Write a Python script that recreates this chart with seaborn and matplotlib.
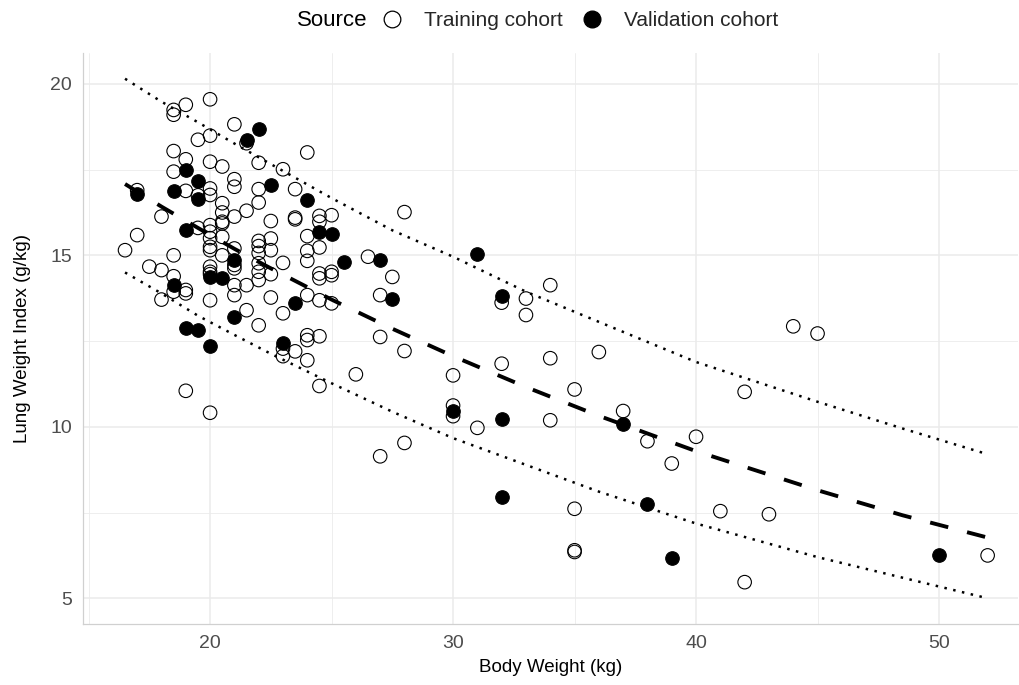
import numpy as np
import pandas as pd
import matplotlib
matplotlib.use("Agg")
import matplotlib.pyplot as plt
import seaborn as sns
from matplotlib.lines import Line2D

# =================================================================
# Data
# =================================================================

# Training cohort (hollow circles), one line per body weight
train_weight = [
    16.5,
    17, 17,
    17.5,
    18, 18, 18,
    18.5, 18.5, 18.5, 18.5, 18.5, 18.5, 18.5,
    19, 19, 19, 19, 19, 19,
    19.5, 19.5, 19.5,
    20, 20, 20, 20, 20, 20, 20, 20, 20, 20, 20, 20, 20, 20, 20,
    20.5, 20.5, 20.5, 20.5, 20.5, 20.5, 20.5,
    21, 21, 21, 21, 21, 21, 21, 21, 21,
    21.5, 21.5, 21.5, 21.5,
    22, 22, 22, 22, 22, 22, 22, 22, 22, 22,
    22.5, 22.5, 22.5, 22.5, 22.5,
    23, 23, 23, 23, 23,
    23.5, 23.5, 23.5, 23.5,
    24, 24, 24, 24, 24, 24, 24, 24,
    24.5, 24.5, 24.5, 24.5, 24.5, 24.5, 24.5, 24.5,
    25, 25, 25, 25,
    26,
    26.5,
    27, 27, 27,
    27.5,
    28, 28, 28,
    30, 30, 30,
    31,
    32, 32,
    33, 33,
    34, 34, 34,
    35, 35, 35, 35,
    36, 37, 38, 39, 40, 41,
    42, 42,
    43, 44, 45, 52,
]
train_index = [
    15.15,
    16.9, 15.59,
    14.67,
    16.13, 14.57, 13.71,
    19.24, 19.1, 18.04, 17.44, 15.0, 14.39, 13.94,
    19.39, 17.8, 16.88, 13.99, 13.89, 11.05,
    18.37, 16.75, 15.8,
    19.55, 18.49, 17.73, 16.95, 16.76, 15.88, 15.69, 15.5, 15.25, 15.15, 14.67, 14.52, 14.45, 13.69, 10.41,
    17.59, 16.52, 16.25, 15.98, 15.93, 15.54, 15.0,
    18.82, 17.22, 17.0, 16.13, 15.2, 14.72, 14.62, 14.13, 13.84,
    18.27, 16.3, 14.13, 13.4,
    17.7, 16.93, 16.54, 15.42, 15.27, 15.07, 14.77, 14.52, 14.28, 12.96,
    16.0, 15.49, 15.15, 14.45, 13.77,
    17.51, 14.78, 13.31, 12.28, 12.06,
    16.93, 16.1, 16.05, 12.2,
    18.0, 15.56, 15.13, 14.84, 13.84, 12.67, 12.53, 11.94,
    16.15, 15.98, 15.23, 14.47, 14.33, 13.69, 12.64, 11.19,
    16.17, 14.52, 14.42, 13.6,
    11.53,
    14.96,
    13.84, 12.62, 9.14,
    14.37,
    16.26, 12.21, 9.53,
    11.5, 10.62, 10.31,
    9.97,
    13.62, 11.84,
    13.74, 13.26,
    14.13, 12.0, 10.19,
    11.09, 7.61, 6.4, 6.35,
    12.18, 10.46, 9.58, 8.93, 9.71, 7.54,
    11.02, 5.47,
    7.45, 12.93, 12.72, 6.25,
]

# Validation cohort (filled circles)
val_weight = [
    17,
    18.5, 18.5,
    19, 19, 19,
    19.5, 19.5, 19.5,
    20, 20,
    20.5,
    21, 21,
    21.5, 22, 22.5, 23, 23.5, 24, 24.5, 25, 25.5, 27, 27.5, 30, 31,
    32, 32, 32,
    37, 38, 39, 50,
]
val_index = [
    16.79,
    16.88, 14.13,
    17.49, 15.74, 12.87,
    17.18, 16.63, 12.82,
    14.38, 12.35,
    14.35,
    14.86, 13.19,
    18.37, 18.68, 17.05, 12.45, 13.6, 16.62, 15.69, 15.61, 14.81, 14.87, 13.72, 10.46, 15.04,
    13.81, 10.24, 7.95,
    10.07, 7.76, 6.18, 6.27,
]

# Fitted curve and prediction band, read at a few body weights
curve_weight = [16.5, 18, 19.5, 21, 22.5, 25, 27.5, 30, 33, 36, 40, 45, 48.5, 52]
curve_fit = [17.08, 16.42, 15.80, 15.19, 14.62, 13.71, 12.86, 12.06, 11.16, 10.32, 9.29, 8.15, 7.42, 6.77]
curve_upper = [20.15, 19.48, 18.88, 18.26, 17.66, 16.67, 15.73, 14.96, 13.94, 13.06, 11.89, 10.73, 9.95, 9.2]
curve_lower = [14.5, 13.89, 13.24, 12.68, 12.13, 11.27, 10.44, 9.67, 8.89, 8.11, 7.18, 6.2, 5.6, 5.0]

train_df = pd.DataFrame({"weight": train_weight, "index": train_index})
val_df = pd.DataFrame({"weight": val_weight, "index": val_index})
curve_df = pd.DataFrame({"weight": curve_weight, "fit": curve_fit,
                         "upper": curve_upper, "lower": curve_lower})

# =================================================================
# Plot
# =================================================================
sns.set_theme(style="white")
plt.rcParams["font.family"] = ["Liberation Sans", "DejaVu Sans"]

fig = plt.figure(figsize=(10.2, 6.85), dpi=100)
ax = fig.add_axes([83 / 1020, 1 - 624 / 685, 935 / 1020, 571 / 685])

grid_col = "#EBEBEB"
ax.set_xlim(14.77, 53.25)
ax.set_ylim(4.25, 20.9)
ax.set_xticks([20, 30, 40, 50])
ax.set_xticks([15, 25, 35, 45], minor=True)
ax.set_yticks([5, 10, 15, 20])
ax.set_yticks([7.5, 12.5, 17.5], minor=True)
ax.grid(which="major", color=grid_col, linewidth=1.1)
ax.grid(which="minor", color=grid_col, linewidth=0.6)
ax.set_axisbelow(True)

# prediction band (dotted) and fitted curve (dashed)
sns.lineplot(data=curve_df, x="weight", y="upper", ax=ax, color="black",
             linewidth=1.8, linestyle=(0, (1, 2.6)), zorder=2)
sns.lineplot(data=curve_df, x="weight", y="lower", ax=ax, color="black",
             linewidth=1.8, linestyle=(0, (1, 2.6)), zorder=2)
sns.lineplot(data=curve_df, x="weight", y="fit", ax=ax, color="black",
             linewidth=2.8, linestyle=(0, (4.8, 5.0)), zorder=4)

sns.scatterplot(data=train_df, x="weight", y="index", ax=ax, s=95,
                facecolors="none", edgecolor="black", linewidth=0.8,
                legend=False, zorder=3)
sns.scatterplot(data=val_df, x="weight", y="index", ax=ax, s=95,
                color="black", edgecolor="black", linewidth=0.8,
                legend=False, zorder=3)

for side in ["top", "right"]:
    ax.spines[side].set_visible(False)
for side in ["left", "bottom"]:
    ax.spines[side].set_color("#D0D0D0")
    ax.spines[side].set_linewidth(0.9)

ax.tick_params(axis="both", which="both", length=0, labelsize=14,
               labelcolor="#4D4D4D")
ax.tick_params(axis="y", pad=8)
ax.tick_params(axis="x", pad=8)
ax.set_xlabel("Body Weight (kg)", fontsize=13.5, color="black", labelpad=5)
ax.set_ylabel("Lung Weight Index (g/kg)", fontsize=13.5, color="black", labelpad=14)

# legend on top
fig.text(332 / 1020, 1 - 21 / 685, "Source", ha="center", va="center",
         fontsize=16, color="black")
handles = [
    Line2D([0], [0], marker="o", linestyle="none", markerfacecolor="none",
           markeredgecolor="black", markersize=12, markeredgewidth=0.9),
    Line2D([0], [0], marker="o", linestyle="none", markerfacecolor="black",
           markeredgecolor="black", markersize=12),
]
fig.legend(handles, ["Training cohort", "Validation cohort"], ncol=2,
           loc="center", bbox_to_anchor=(580 / 1020, 1 - 21 / 685),
           frameon=False, fontsize=15, handletextpad=1.05,
           columnspacing=0.9, handlelength=1.0)

fig.savefig("out.png", dpi=100)
